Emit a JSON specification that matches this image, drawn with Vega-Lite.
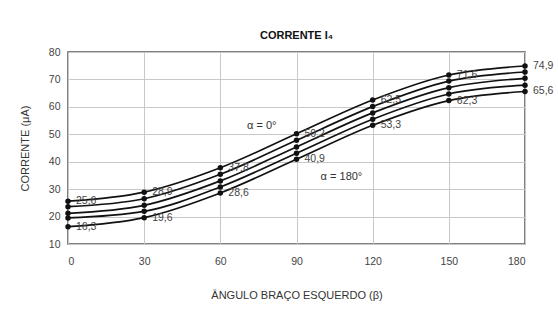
{
  "$schema": "https://vega.github.io/schema/vega-lite/v6.json",
  "width": 457,
  "height": 192,
  "autosize": {"type": "none"},
  "padding": {"left": 68, "top": 52, "right": 33, "bottom": 77},
  "background": "white",
  "title": {"text": "CORRENTE I₄", "fontSize": 11, "fontWeight": "bold", "font": "Liberation Sans", "color": "#111", "anchor": "middle", "offset": 6},
  "config": {
    "font": "Liberation Sans",
    "view": {"stroke": "#555", "strokeWidth": 1.5},
    "axis": {
      "grid": true, "gridColor": "#c8c8c8", "gridWidth": 1, "ticks": false, "domain": false,
      "labelColor": "#444", "labelFontSize": 10.5, "labelFont": "Liberation Sans",
      "titleFont": "Liberation Sans", "titleFontWeight": "normal", "titleFontSize": 11, "titleColor": "#333"
    }
  },
  "datasets": {
    "series": [
      {"beta": 0, "alpha": 0, "value": 25.6}, {"beta": 30, "alpha": 0, "value": 28.9}, {"beta": 60, "alpha": 0, "value": 37.8}, {"beta": 90, "alpha": 0, "value": 50.2}, {"beta": 120, "alpha": 0, "value": 62.5}, {"beta": 150, "alpha": 0, "value": 71.6}, {"beta": 180, "alpha": 0, "value": 74.9},
      {"beta": 0, "alpha": 45, "value": 23.6}, {"beta": 30, "alpha": 45, "value": 26.5}, {"beta": 60, "alpha": 45, "value": 35.4}, {"beta": 90, "alpha": 45, "value": 47.8}, {"beta": 120, "alpha": 45, "value": 60.1}, {"beta": 150, "alpha": 45, "value": 69.4}, {"beta": 180, "alpha": 45, "value": 72.7},
      {"beta": 0, "alpha": 90, "value": 21.2}, {"beta": 30, "alpha": 90, "value": 24.1}, {"beta": 60, "alpha": 90, "value": 33.0}, {"beta": 90, "alpha": 90, "value": 45.4}, {"beta": 120, "alpha": 90, "value": 57.8}, {"beta": 150, "alpha": 90, "value": 67.0}, {"beta": 180, "alpha": 90, "value": 70.4},
      {"beta": 0, "alpha": 135, "value": 19.5}, {"beta": 30, "alpha": 135, "value": 21.9}, {"beta": 60, "alpha": 135, "value": 30.8}, {"beta": 90, "alpha": 135, "value": 43.1}, {"beta": 120, "alpha": 135, "value": 55.5}, {"beta": 150, "alpha": 135, "value": 64.7}, {"beta": 180, "alpha": 135, "value": 67.9},
      {"beta": 0, "alpha": 180, "value": 16.3}, {"beta": 30, "alpha": 180, "value": 19.6}, {"beta": 60, "alpha": 180, "value": 28.6}, {"beta": 90, "alpha": 180, "value": 40.9}, {"beta": 120, "alpha": 180, "value": 53.3}, {"beta": 150, "alpha": 180, "value": 62.3}, {"beta": 180, "alpha": 180, "value": 65.6}
    ],
    "labels": [
      {"beta": 0, "value": 25.6, "text": "25,6"}, {"beta": 30, "value": 28.9, "text": "28,9"}, {"beta": 60, "value": 37.8, "text": "37,8"}, {"beta": 90, "value": 50.2, "text": "50,2"}, {"beta": 120, "value": 62.5, "text": "62,5"}, {"beta": 150, "value": 71.6, "text": "71,6"}, {"beta": 180, "value": 74.9, "text": "74,9"},
      {"beta": 0, "value": 16.3, "text": "16,3"}, {"beta": 30, "value": 19.6, "text": "19,6"}, {"beta": 60, "value": 28.6, "text": "28,6"}, {"beta": 90, "value": 40.9, "text": "40,9"}, {"beta": 120, "value": 53.3, "text": "53,3"}, {"beta": 150, "value": 62.3, "text": "62,3"}, {"beta": 180, "value": 65.6, "text": "65,6"}
    ],
    "notes": [
      {"beta": 70.5, "value": 53.2, "text": "α = 0°"},
      {"beta": 99.5, "value": 34.6, "text": "α = 180°"}
    ]
  },
  "encoding": {
    "x": {"field": "beta", "type": "quantitative", "scale": {"domain": [0, 180], "nice": false, "zero": false},
          "axis": {"values": [0, 30, 60, 90, 120, 150, 180], "title": "ÂNGULO BRAÇO ESQUERDO (β)", "labelPadding": 12, "titlePadding": 23}},
    "y": {"field": "value", "type": "quantitative", "scale": {"domain": [10, 80], "nice": false, "zero": false},
          "axis": {"values": [10, 20, 30, 40, 50, 60, 70, 80], "title": "CORRENTE (μA)", "labelPadding": 8, "titlePadding": 18}}
  },
  "layer": [
    {"data": {"name": "series"}, "mark": {"type": "line", "interpolate": "monotone", "color": "#111", "strokeWidth": 1.7},
     "encoding": {"detail": {"field": "alpha", "type": "nominal"}}},
    {"data": {"name": "series"}, "mark": {"type": "point", "filled": true, "color": "#111", "size": 30, "opacity": 1}},
    {"data": {"name": "labels"}, "mark": {"type": "text", "align": "left", "baseline": "middle", "dx": 8, "fontSize": 10.5, "color": "#444"},
     "encoding": {"text": {"field": "text"}}},
    {"data": {"name": "notes"}, "mark": {"type": "text", "align": "left", "baseline": "middle", "fontSize": 11, "color": "#333"},
     "encoding": {"text": {"field": "text"}}}
  ]
}
